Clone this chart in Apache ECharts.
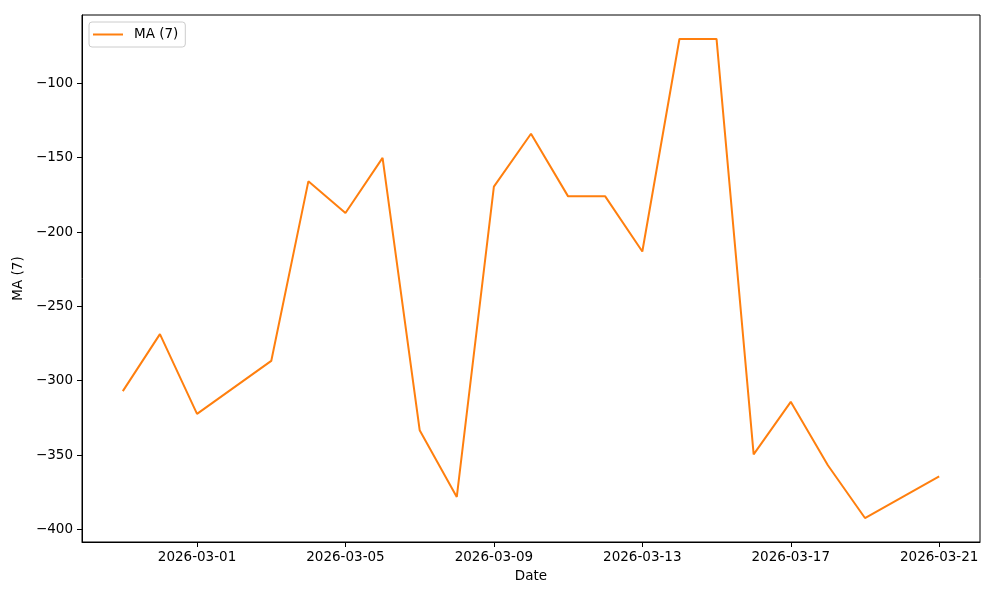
<!DOCTYPE html>
<html>
<head>
<meta charset="utf-8">
<script src="https://cdn.jsdelivr.net/npm/echarts@6/dist/echarts.min.js"></script>
<style>
html,body{margin:0;padding:0;background:#fff;}
#chart{width:1000px;height:600px;}
</style>
</head>
<body>
<div id="chart"></div>
<script>
// ---- data ----
const dates = ['2026-02-27','2026-02-28','2026-03-01','2026-03-03','2026-03-04','2026-03-05','2026-03-06',
  '2026-03-07','2026-03-08','2026-03-09','2026-03-10','2026-03-11','2026-03-12','2026-03-13',
  '2026-03-14','2026-03-15','2026-03-16','2026-03-17','2026-03-18','2026-03-19','2026-03-21'];
const maValues = [-307.0,-268.7,-322.3,-286.7,-165.9,-187.2,-150.1,
  -333.3,-378.2,-169.4,-133.9,-176.0,-176.0,-213.1,
  -70.1,-70.1,-349.6,-314.2,-356.9,-392.4,-364.3];
const xTickLabels = ['2026-03-01','2026-03-05','2026-03-09','2026-03-13','2026-03-17','2026-03-21'];
const yTickValues = [-400,-350,-300,-250,-200,-150,-100];
const seriesName = 'MA (7)';

// ---- helpers ----
const DAY = 86400000;
function toMs(s){ const p = s.split('-').map(Number); return Date.UTC(p[0], p[1]-1, p[2]); }
const baseMs = toMs(xTickLabels[0]);
function toDay(s){ return Math.round((toMs(s) - baseMs) / DAY); }
function fromDay(d){
  const dt = new Date(baseMs + Math.round(d) * DAY);
  const mm = String(dt.getUTCMonth()+1).padStart(2,'0');
  const dd = String(dt.getUTCDate()).padStart(2,'0');
  return dt.getUTCFullYear() + '-' + mm + '-' + dd;
}
const seriesData = dates.map((d,i) => [toDay(d), maValues[i]]);
const dayVals = dates.map(toDay);
const dMin = Math.min(...dayVals), dMax = Math.max(...dayVals);
const xPad = (dMax - dMin) * 0.05;
const vMin = Math.min(...maValues), vMax = Math.max(...maValues);
const yPad = (vMax - vMin) * 0.05;
const xTickDays = xTickLabels.map(toDay);

const font = 'DejaVu Sans';
const chart = echarts.init(document.getElementById('chart'), null, {renderer:'canvas'});
chart.setOption({
  animation: false,
  backgroundColor: '#fff',
  grid: { left: 82, right: 20, top: 15, bottom: 58, show: true, borderColor: '#000', borderWidth: 1, backgroundColor: 'transparent' },
  legend: {
    left: 89, top: 22,
    orient: 'vertical',
    padding: [5, 7, 5, 4],
    borderColor: '#cccccc', borderWidth: 1, borderRadius: 3,
    backgroundColor: 'rgba(255,255,255,0.8)',
    itemWidth: 30, itemHeight: 2,
    icon: 'rect',
    textStyle: { fontFamily: font, fontSize: 13.5, color: '#000', padding: [0,0,0,6], lineHeight: 15 },
    data: [{ name: seriesName, icon: 'rect', itemStyle: { color: '#ff7f0e' } }]
  },
  xAxis: {
    type: 'value',
    min: dMin - xPad, max: dMax + xPad,
    name: 'Date', nameLocation: 'middle', nameGap: 27,
    nameTextStyle: { fontFamily: font, fontSize: 13.5, color: '#000' },
    axisLine: { show: true, onZero: false, lineStyle: { color: '#000', width: 1 } },
    axisTick: { show: true, length: 5, lineStyle: { color: '#000', width: 1 }, customValues: xTickDays },
    axisLabel: { fontFamily: font, fontSize: 13.5, color: '#000', margin: 8, customValues: xTickDays, formatter: v => fromDay(v) },
    splitLine: { show: false }
  },
  yAxis: {
    type: 'value',
    min: vMin - yPad, max: vMax + yPad,
    name: seriesName, nameLocation: 'middle', nameGap: 49, nameRotate: 90,
    nameTextStyle: { fontFamily: font, fontSize: 13.5, color: '#000' },
    axisLine: { show: true, onZero: false, lineStyle: { color: '#000', width: 1 } },
    axisTick: { show: true, length: 5, lineStyle: { color: '#000', width: 1 }, customValues: yTickValues },
    axisLabel: { fontFamily: font, fontSize: 13.5, color: '#000', margin: 9, customValues: yTickValues, formatter: v => String(v).replace('-', '\u2212') },
    splitLine: { show: false }
  },
  series: [{
    name: seriesName,
    type: 'line',
    data: seriesData,
    showSymbol: false,
    symbol: 'none',
    lineStyle: { color: '#ff7f0e', width: 2 },
    itemStyle: { color: '#ff7f0e' }
  }]
});
</script>
</body>
</html>
